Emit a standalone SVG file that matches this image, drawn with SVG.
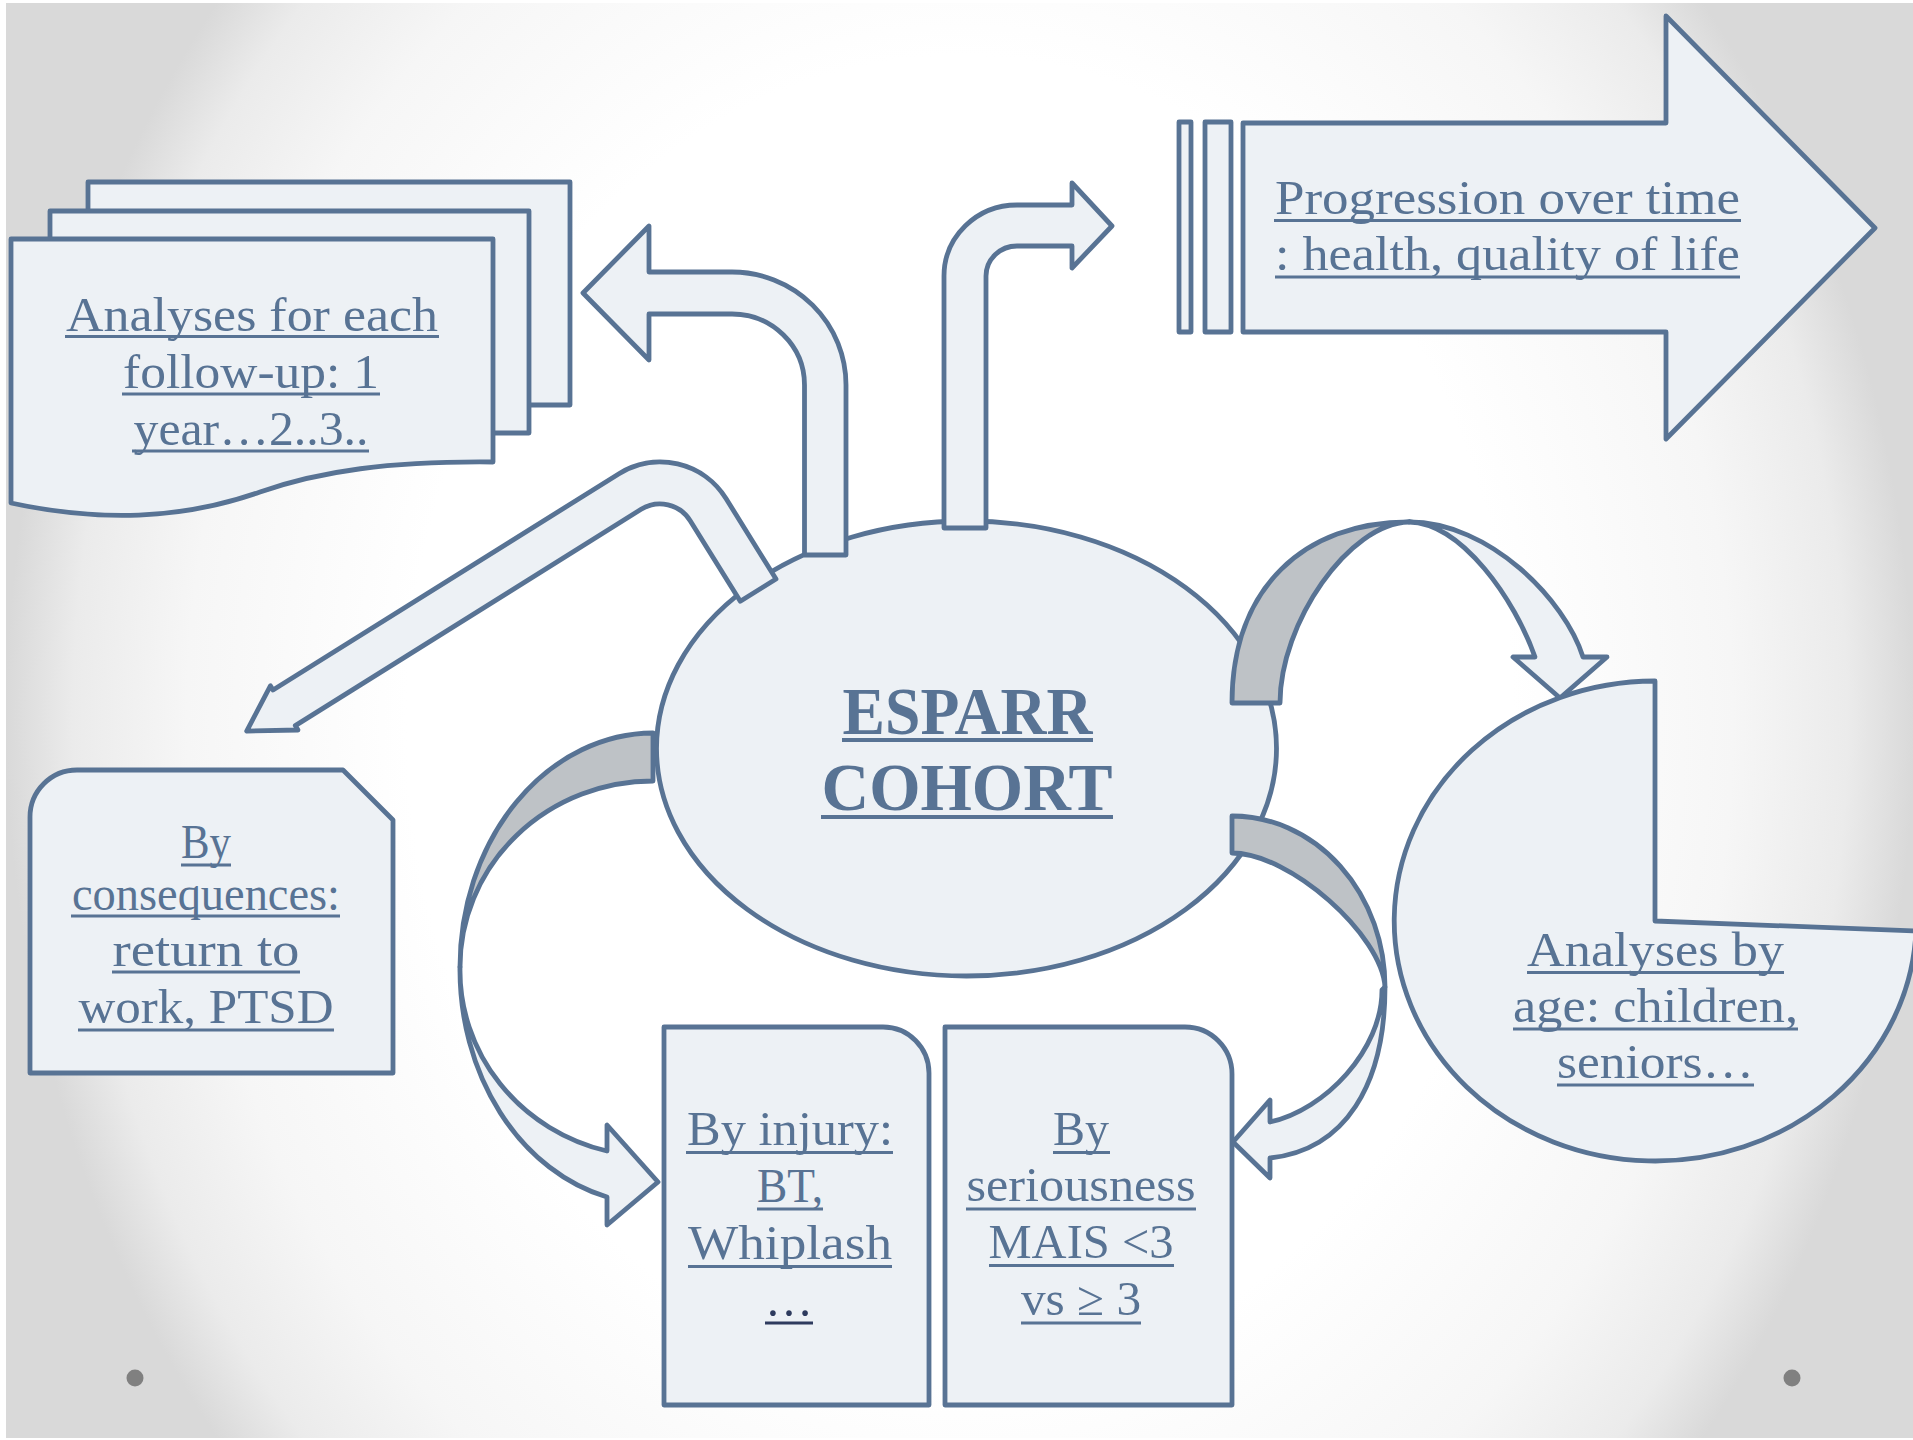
<svg xmlns="http://www.w3.org/2000/svg" width="1913" height="1440" viewBox="0 0 1913 1440">
<defs>
<radialGradient id="bg" gradientUnits="userSpaceOnUse" cx="960" cy="720" r="954" gradientTransform="translate(960 720) scale(1 1.2) translate(-960 -720)">
<stop offset="0" stop-color="#ffffff"/>
<stop offset="0.58" stop-color="#ffffff"/>
<stop offset="0.81" stop-color="#f6f6f6"/>
<stop offset="0.93" stop-color="#ebebeb"/>
<stop offset="1" stop-color="#d9d9d9"/>
</radialGradient>
<style>
.s{fill:#EDF1F5;stroke:#587394;stroke-width:4.8;stroke-linejoin:round}
.g{fill:#BEC2C6;stroke:#587394;stroke-width:4.8;stroke-linejoin:round}
.t{font-family:"Liberation Serif","Times New Roman",serif;font-size:49px;fill:#587394;text-anchor:middle}
.b{font-weight:bold;font-size:67px}
.ul{stroke:#587394;stroke-width:3}
.ulb{stroke:#587394;stroke-width:4}
.dk{fill:#2E3B5E}
.uld{stroke:#2E3B5E;stroke-width:3}
.dot{fill:#808080}
</style>
</defs>
<rect x="0" y="0" width="1913" height="1440" fill="#ffffff"/>
<rect x="6" y="3" width="1907" height="1435" fill="url(#bg)"/>
<circle class="dot" cx="135" cy="1378" r="8.5"/>
<circle class="dot" cx="1792" cy="1378" r="8.5"/>

<g id="node-followup">
<rect class="s" x="88" y="182" width="482" height="223"/>
<rect class="s" x="50" y="211" width="479" height="222"/>
<path class="s" d="M 11,239 L 493,239 L 493,462 C 390,461 320,471 260,492 C 180,520 100,522 11,503 Z"/>
<text class="t" x="252" y="331" textLength="372" lengthAdjust="spacingAndGlyphs">Analyses for each</text>
<text class="t" x="251" y="388" textLength="256" lengthAdjust="spacingAndGlyphs">follow-up: 1</text>
<text class="t" x="251" y="445" textLength="235" lengthAdjust="spacingAndGlyphs">year…2..3..</text>
<line class="ul" x1="65" y1="336.5" x2="439" y2="336.5"/>
<line class="ul" x1="122" y1="394" x2="380" y2="394"/>
<line class="ul" x1="132" y1="451" x2="369" y2="451"/>
</g>

<g id="node-progression">
<rect class="s" x="1179" y="122" width="12" height="210"/>
<rect class="s" x="1205" y="122" width="26" height="210"/>
<path class="s" d="M 1243,123 L 1666,123 L 1666,16 L 1875,228 L 1666,439 L 1666,332 L 1243,332 Z"/>
<text class="t" x="1507.5" y="214" textLength="465" lengthAdjust="spacingAndGlyphs">Progression over time</text>
<text class="t" x="1507.5" y="270" textLength="465" lengthAdjust="spacingAndGlyphs">: health, quality of life</text>
<line class="ul" x1="1274" y1="220.5" x2="1741" y2="220.5"/>
<line class="ul" x1="1275" y1="277" x2="1740" y2="277"/>
</g>

<g id="node-consequences">
<path class="s" d="M 30,817 A 47,47 0 0 1 77,770 L 343,770 L 393,820 L 393,1073 L 30,1073 Z"/>
<text class="t" x="206" y="858" textLength="50" lengthAdjust="spacingAndGlyphs">By</text>
<text class="t" x="206" y="910" textLength="268" lengthAdjust="spacingAndGlyphs">consequences:</text>
<text class="t" x="206" y="966" textLength="187" lengthAdjust="spacingAndGlyphs">return to</text>
<text class="t" x="206" y="1023" textLength="255" lengthAdjust="spacingAndGlyphs">work, PTSD</text>
<line class="ul" x1="181" y1="865" x2="231" y2="865"/>
<line class="ul" x1="71" y1="916" x2="340" y2="916"/>
<line class="ul" x1="112" y1="972" x2="300" y2="972"/>
<line class="ul" x1="78" y1="1030" x2="334" y2="1030"/>
</g>

<g id="node-injury">
<path class="s" d="M 664,1027 L 883,1027 A 46,46 0 0 1 929,1073 L 929,1405 L 664,1405 Z"/>
<text class="t" x="790" y="1145" textLength="206" lengthAdjust="spacingAndGlyphs">By injury:</text>
<text class="t" x="790" y="1202" textLength="66" lengthAdjust="spacingAndGlyphs">BT,</text>
<text class="t" x="790" y="1259" textLength="204" lengthAdjust="spacingAndGlyphs">Whiplash</text>
<text class="t dk" x="789" y="1316" textLength="48" lengthAdjust="spacingAndGlyphs">…</text>
<line class="ul" x1="686" y1="1152.5" x2="893" y2="1152.5"/>
<line class="ul" x1="757" y1="1209" x2="823" y2="1209"/>
<line class="ul" x1="688" y1="1266.5" x2="892" y2="1266.5"/>
<line class="uld" x1="765" y1="1323" x2="813" y2="1323"/>
</g>

<g id="node-seriousness">
<path class="s" d="M 945,1027 L 1185,1027 A 47,47 0 0 1 1232,1074 L 1232,1405 L 945,1405 Z"/>
<text class="t" x="1081" y="1145" textLength="56" lengthAdjust="spacingAndGlyphs">By</text>
<text class="t" x="1081" y="1201" textLength="229" lengthAdjust="spacingAndGlyphs">seriousness</text>
<text class="t" x="1081" y="1258" textLength="185" lengthAdjust="spacingAndGlyphs">MAIS &lt;3</text>
<text class="t" x="1081" y="1315" textLength="120" lengthAdjust="spacingAndGlyphs">vs ≥ 3</text>
<line class="ul" x1="1053" y1="1152.5" x2="1110" y2="1152.5"/>
<line class="ul" x1="966" y1="1209" x2="1196" y2="1209"/>
<line class="ul" x1="989" y1="1265.5" x2="1174" y2="1265.5"/>
<line class="ul" x1="1021" y1="1323" x2="1141" y2="1323"/>
</g>

<g id="node-esparr">
<ellipse class="s" cx="966.5" cy="748.5" rx="310" ry="227.5"/>
<text class="t b" x="967.5" y="734" textLength="250" lengthAdjust="spacingAndGlyphs">ESPARR</text>
<text class="t b" x="967" y="810" textLength="291" lengthAdjust="spacingAndGlyphs">COHORT</text>
<line class="ulb" x1="842" y1="740" x2="1093" y2="740"/>
<line class="ulb" x1="821" y1="817" x2="1113" y2="817"/>
</g>

<g id="connectors">
<path id="arrow-followup" class="s" d="M 804.5,555 L 804.5,385 A 72.5,71 0 0 0 732,314 L 649,314 L 649,360 L 583,293 L 649,226 L 649,272 L 732,272 A 114,113 0 0 1 846,385 L 846,555 Z"/>
<path id="arrow-progression" class="s" d="M 944,528 L 944,276 A 73,71 0 0 1 1017,205 L 1072,205 L 1072,183 L 1112,226 L 1072,268 L 1072,246 L 1017,246 A 31,30 0 0 0 986,276 L 986,528 Z"/>
<path id="arrow-consequences" class="s" d="M 776,579 L 726,498.5 A 77.6,77.6 0 0 0 619,473.7 L 273,690 L 270.4,685.8 L 246.7,731.1 L 298,730 L 295.3,725.6 L 641.1,509.3 A 35.6,35.6 0 0 1 690.2,520.7 L 740.3,601.2 Z"/>
<g id="arrow-injury">
<path class="g" d="M 653,733 A 194,234 0 0 0 460,967 A 193,186 0 0 1 653,781 Z"/>
<path class="s" d="M 460,967 A 194,234 0 0 0 607,1197 L 607,1225 L 658,1182 L 607,1125 L 607,1151 A 193,186 0 0 1 460,967 Z"/>
</g>
<g id="arrow-age">
<path class="g" d="M 1232,703 C 1232,588 1304,522 1409,522 C 1349,523 1280,623 1280,703 Z"/>
<path class="s" d="M 1409,522 C 1490,522 1565,600 1583,657 L 1607,657 L 1560,698 L 1513,657 L 1535,657 C 1515,600 1462,523 1409,522 Z"/>
</g>
<g id="arrow-seriousness">
<path class="g" d="M 1232,816 A 153,171 0 0 1 1385,987 C 1382,935 1290,853 1232,853 Z"/>
<path class="s" d="M 1385,987 C 1385,1085 1345,1150 1270,1158 L 1270,1178 L 1233,1142 L 1270,1100 L 1270,1122 C 1325,1110 1382,1050 1382,990 Z"/>
</g>
</g>

<g id="node-age">
<path class="s" d="M 1655,921 L 1655,681 A 261,240 0 1 0 1916,931 Z"/>
<text class="t" x="1655.5" y="966" textLength="257" lengthAdjust="spacingAndGlyphs">Analyses by</text>
<text class="t" x="1655.5" y="1022" textLength="285" lengthAdjust="spacingAndGlyphs">age: children,</text>
<text class="t" x="1655.5" y="1078" textLength="197" lengthAdjust="spacingAndGlyphs">seniors…</text>
<line class="ul" x1="1527" y1="972.5" x2="1784" y2="972.5"/>
<line class="ul" x1="1513" y1="1029" x2="1798" y2="1029"/>
<line class="ul" x1="1557" y1="1085" x2="1754" y2="1085"/>
</g>
</svg>
